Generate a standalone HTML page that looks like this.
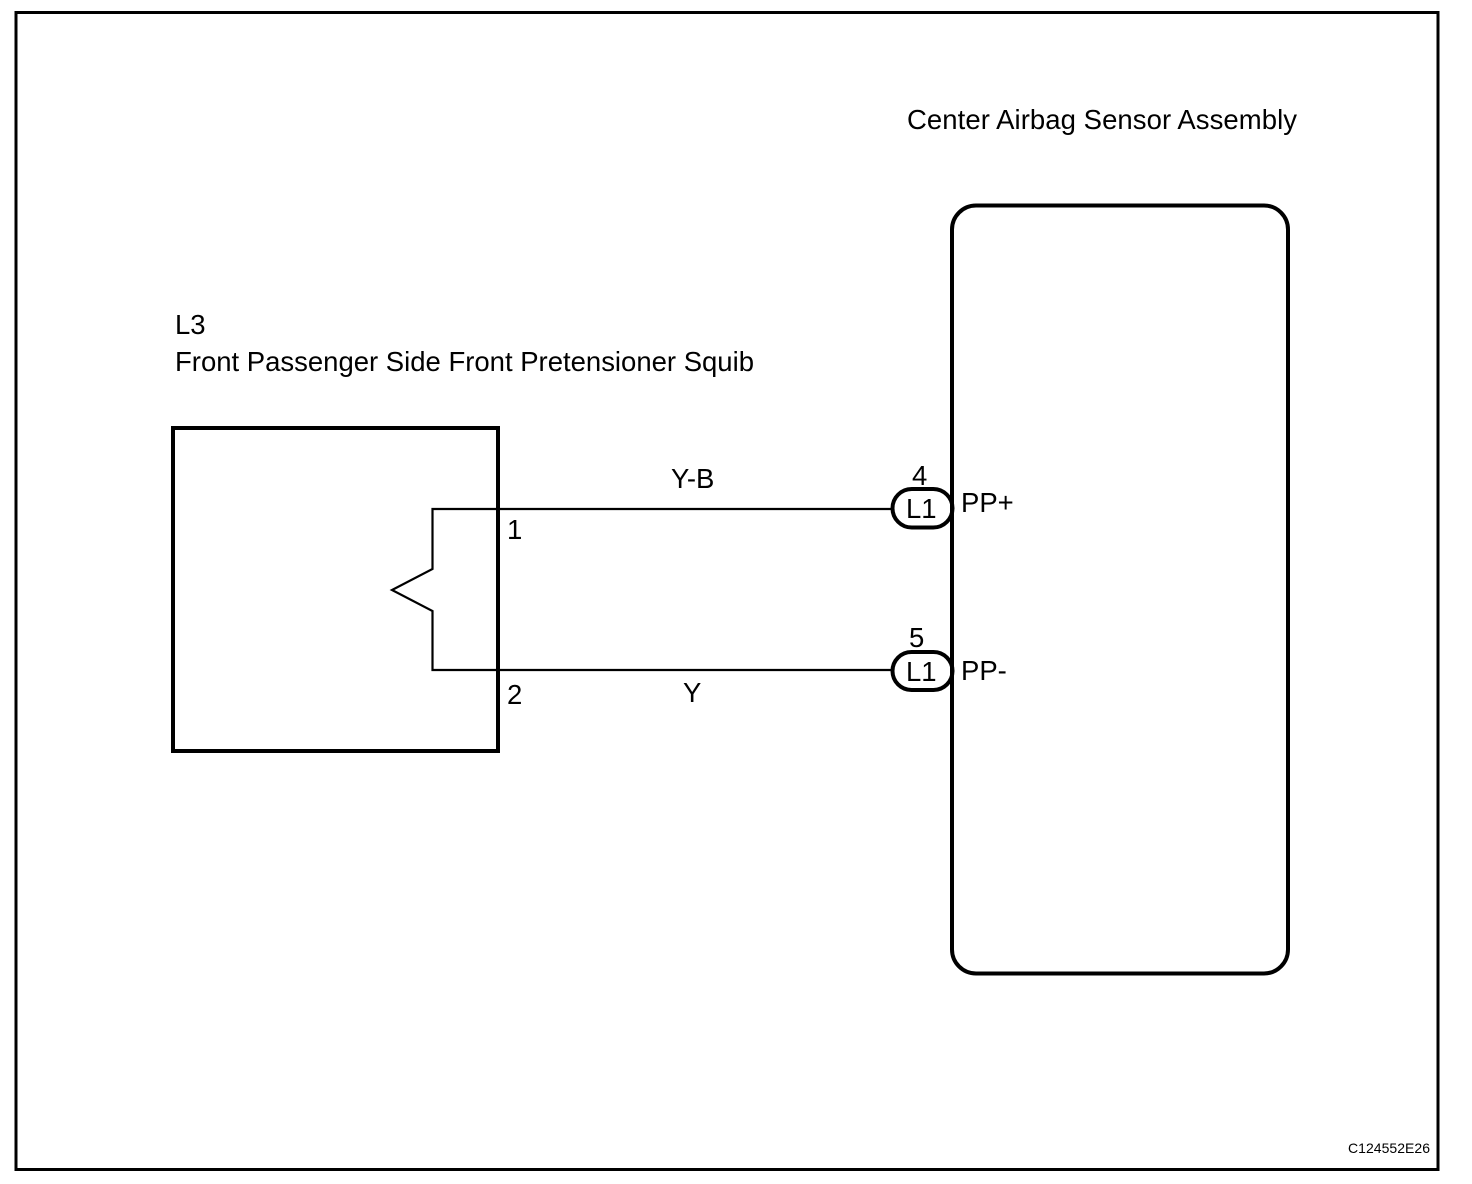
<!DOCTYPE html>
<html>
<head>
<meta charset="utf-8">
<style>
html,body{margin:0;padding:0;background:#fff;}
body{width:1472px;height:1184px;overflow:hidden;}
svg{display:block;}
text{font-family:"Liberation Sans",Arial,sans-serif;fill:#000;font-size:27.5px;}
</style>
</head>
<body>
<svg width="1472" height="1184" viewBox="0 0 1472 1184" xmlns="http://www.w3.org/2000/svg">
<rect width="1472" height="1184" fill="#fff"/>
<rect x="16" y="12.5" width="1422" height="1157" fill="none" stroke="#000" stroke-width="3"/>
<polyline points="893,509 432.5,509 432.5,569 392,590 432.5,611 432.5,670 893,670" fill="none" stroke="#000" stroke-width="2.2"/>
<rect x="892.5" y="489" width="60" height="38.5" rx="19.25" ry="19.25" fill="#fff" stroke="#000" stroke-width="4"/>
<rect x="892.5" y="652" width="60" height="38" rx="19" ry="19" fill="#fff" stroke="#000" stroke-width="4"/>
<rect x="952" y="205.5" width="336" height="768" rx="24" ry="24" fill="none" stroke="#000" stroke-width="4"/>
<rect x="173" y="428" width="325" height="323" fill="none" stroke="#000" stroke-width="4"/>
<text x="907" y="129" textLength="390" lengthAdjust="spacing">Center Airbag Sensor Assembly</text>
<text x="175" y="334">L3</text>
<text x="175" y="371" textLength="579" lengthAdjust="spacing">Front Passenger Side Front Pretensioner Squib</text>
<text x="671" y="488">Y-B</text>
<text x="683" y="702">Y</text>
<text x="507" y="539">1</text>
<text x="507" y="704">2</text>
<text x="912" y="485">4</text>
<text x="909" y="647">5</text>
<text x="906" y="518">L1</text>
<text x="906" y="681">L1</text>
<text x="961" y="512">PP+</text>
<text x="961" y="680">PP-</text>
<text x="1348" y="1153" textLength="82" lengthAdjust="spacing" style="font-size:14px">C124552E26</text>
</svg>
</body>
</html>
